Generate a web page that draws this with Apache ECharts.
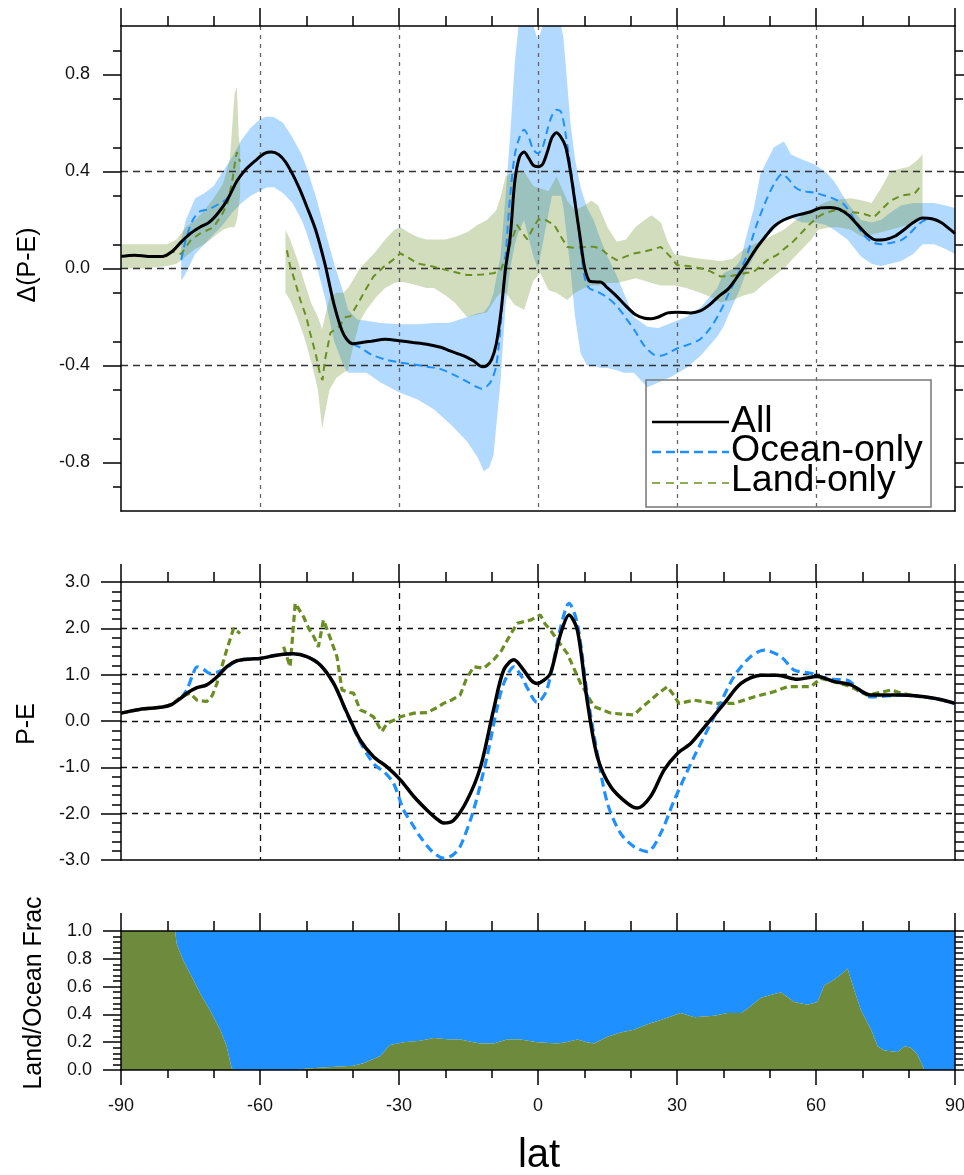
<!DOCTYPE html>
<html><head><meta charset="utf-8">
<script src="https://cdn.jsdelivr.net/npm/echarts@6/dist/echarts.min.js"></script>
<style>html,body{margin:0;padding:0;background:#fff}#c{width:964px;height:1175px}</style>
</head><body><div id="c"></div>
<script>
// ---------- DATA ----------
const xTicks = [-90, 90, 30];            // min, max, step of latitude axis
const deltaTickValues = [-0.8, -0.4, 0, 0.4, 0.8];

// Top panel: Δ(P-E)
const deltaAll = [[-90,0.05],[-87,0.055],[-84,0.05],[-81,0.05],[-79,0.07],[-77,0.11],[-75,0.145],[-73,0.17],[-71,0.19],[-69,0.23],[-67,0.285],[-65,0.36],[-63,0.41],[-61,0.445],[-59,0.475],[-57.5,0.48],[-56,0.47],[-54.5,0.44],[-53,0.39],[-51.5,0.33],[-50,0.26],[-48,0.16],[-46,0.02],[-44,-0.15],[-42,-0.27],[-40,-0.31],[-38,-0.305],[-36,-0.3],[-33,-0.292],[-30,-0.298],[-27,-0.305],[-24,-0.312],[-21,-0.325],[-19,-0.34],[-16,-0.36],[-14,-0.38],[-12,-0.405],[-11,-0.4],[-10,-0.375],[-9,-0.31],[-8,-0.18],[-7,0.0],[-6,0.13],[-5,0.36],[-4,0.46],[-3,0.48],[-2,0.455],[-1,0.425],[0,0.42],[1,0.43],[2,0.48],[3,0.54],[4,0.56],[5,0.54],[6,0.5],[7,0.4],[8,0.27],[9,0.14],[10,0.01],[11,-0.05],[12,-0.055],[13.5,-0.056],[15,-0.08],[17,-0.115],[19,-0.155],[21,-0.19],[23,-0.205],[24.5,-0.207],[26,-0.2],[28,-0.183],[30,-0.18],[33,-0.183],[35,-0.175],[37,-0.15],[39,-0.115],[41,-0.085],[43,-0.035],[45,0.02],[47,0.08],[49,0.13],[51,0.175],[53,0.2],[55,0.215],[57,0.225],[59,0.235],[61,0.25],[63,0.252],[65,0.245],[67,0.22],[69,0.18],[71,0.14],[73,0.118],[75,0.12],[77,0.133],[79,0.16],[81,0.19],[83,0.208],[85,0.205],[87,0.19],[89,0.16],[90,0.144]];
const deltaOcean = [[-77,0.035],[-76,0.12],[-74.5,0.2],[-73,0.235],[-71,0.245],[-69,0.265],[-67,0.29],[-65,0.36],[-63,0.41],[-61,0.445],[-59,0.475],[-57.5,0.48],[-56,0.47],[-54.5,0.44],[-53,0.39],[-51.5,0.33],[-50,0.26],[-48,0.16],[-46,0.02],[-44,-0.15],[-42,-0.27],[-40,-0.31],[-38,-0.33],[-36,-0.355],[-33,-0.375],[-30,-0.387],[-27,-0.395],[-24,-0.405],[-21,-0.415],[-18,-0.44],[-15,-0.47],[-13,-0.49],[-12,-0.496],[-11,-0.485],[-10,-0.46],[-9,-0.4],[-8,-0.22],[-7,0.05],[-6,0.3],[-5,0.47],[-4,0.54],[-3,0.572],[-2,0.54],[-1,0.49],[0,0.475],[1,0.5],[2,0.57],[3,0.63],[4,0.655],[5,0.645],[6,0.55],[7,0.42],[8,0.29],[9,0.12],[10,-0.03],[11,-0.08],[13,-0.097],[15,-0.12],[17,-0.155],[19,-0.205],[21,-0.26],[23,-0.32],[25,-0.355],[26.5,-0.36],[28,-0.35],[30,-0.33],[33,-0.31],[35,-0.292],[37,-0.25],[39,-0.19],[41,-0.11],[43,-0.03],[45,0.05],[47,0.17],[49,0.27],[51,0.35],[52.7,0.389],[54,0.37],[55.5,0.335],[57,0.32],[59.6,0.313],[62,0.3],[64,0.286],[66,0.265],[68,0.21],[70,0.145],[72,0.11],[74,0.1],[76,0.105],[78.3,0.116],[80,0.14],[82,0.18],[83.5,0.2],[85,0.205],[87,0.19],[89,0.16],[90,0.144]];
const deltaLand = [[-90,0.05],[-87,0.055],[-84,0.05],[-81,0.05],[-79,0.07],[-77,0.06],[-75,0.116],[-73,0.144],[-70,0.17],[-68,0.23],[-67,0.27],[-66,0.36],[-65.3,0.45],[-65,0.48],[-64.3,0.44],[-64,null],[-54.2,0.075],[-53.5,0.01],[-52.5,-0.05],[-51.3,-0.13],[-50,-0.2],[-49.2,-0.265],[-48,-0.35],[-47,-0.44],[-46.5,-0.46],[-46,-0.38],[-44.8,-0.265],[-43,-0.24],[-41.5,-0.2],[-40.5,-0.197],[-38.4,-0.129],[-37,-0.08],[-35.5,-0.033],[-33.3,0.007],[-31,0.04],[-29.7,0.062],[-28,0.045],[-26,0.021],[-22.5,0.007],[-19,-0.01],[-15.3,-0.027],[-12,-0.025],[-9.6,-0.02],[-8,-0.006],[-7,0.048],[-6,0.1],[-4.5,0.18],[-3.5,0.15],[-2.3,0.12],[-1,0.17],[0,0.2],[1.3,0.205],[2.5,0.19],[3.4,0.184],[5,0.13],[6.3,0.089],[8,0.085],[10,0.089],[12,0.09],[13.5,0.082],[15.5,0.05],[17,0.035],[19,0.05],[20.7,0.062],[23,0.07],[25,0.08],[26.5,0.089],[28.5,0.05],[30,0.014],[32.5,0.01],[35,0.001],[37,-0.01],[39.4,-0.033],[42,-0.03],[44.5,-0.02],[46.6,-0.013],[48,0.01],[49.5,0.035],[51.5,0.055],[53.1,0.08],[55,0.11],[56.7,0.144],[58.5,0.18],[60.3,0.211],[62,0.23],[63.9,0.239],[65.5,0.237],[67.5,0.232],[69,0.23],[70.4,0.225],[72.5,0.211],[74,0.24],[76.1,0.28],[78.3,0.3],[80,0.305],[81.2,0.307],[82.2,0.33],[83,0.341]];

// spread bands: [lat, low, high]
const oceanBand = [[-77,-0.05,0.12],[-76,-0.02,0.2],[-74,0.06,0.29],[-72,0.1,0.31],[-70,0.14,0.34],[-68,0.18,0.4],[-66,0.23,0.46],[-64,0.27,0.53],[-62,0.3,0.58],[-60,0.32,0.615],[-58.5,0.335,0.627],[-57,0.335,0.625],[-55,0.31,0.6],[-53,0.27,0.54],[-51,0.2,0.47],[-50,0.15,0.42],[-48,0.03,0.3],[-46,-0.12,0.16],[-44,-0.3,0.02],[-42,-0.4,-0.1],[-41,-0.43,-0.17],[-39,-0.43,-0.21],[-37,-0.43,-0.215],[-34,-0.47,-0.225],[-30,-0.51,-0.23],[-26,-0.54,-0.23],[-22.5,-0.58,-0.225],[-19,-0.64,-0.224],[-15.3,-0.713,-0.2],[-13,-0.78,-0.185],[-11.7,-0.836,-0.18],[-10.5,-0.82,-0.15],[-9.6,-0.768,-0.1],[-8.1,-0.469,0.05],[-7,-0.15,0.3],[-6,0.0,0.55],[-5,0.1,0.85],[-4.2,0.15,1.0],[-3,0.2,1.0],[-1,0.05,1.0],[0,0.0,0.94],[1,0.1,1.0],[3,0.3,1.0],[5,0.3,1.0],[5.5,0.25,0.95],[7,0.0,0.6],[8,-0.2,0.45],[9.2,-0.35,0.334],[10.6,-0.4,0.25],[12,-0.4,0.2],[13.5,-0.41,0.12],[15,-0.41,0.05],[17,-0.42,-0.03],[18.5,-0.43,-0.1],[20.7,-0.43,-0.2],[23.6,-0.49,-0.24],[26,-0.47,-0.245],[29.4,-0.44,-0.22],[32,-0.41,-0.2],[35.1,-0.36,-0.16],[38.7,-0.28,-0.08],[40,-0.24,-0.02],[42.3,-0.14,0.0],[43.7,-0.08,0.035],[45.2,0.0,0.15],[46.6,0.05,0.25],[48,0.1,0.39],[50.9,0.16,0.5],[53.1,0.2,0.524],[54.6,0.21,0.47],[57,0.19,0.45],[59.6,0.19,0.43],[62,0.18,0.4],[63.9,0.16,0.36],[66.8,0.12,0.27],[69.7,0.05,0.2],[72,0.02,0.19],[74,0.01,0.2],[76,0.02,0.23],[78.3,0.03,0.26],[81,0.06,0.27],[83,0.1,0.27],[85.5,0.1,0.27],[88,0.08,0.26],[90,0.06,0.25]];
const landBand = [[-90,0.0,0.1],[-85,0.0,0.1],[-80,0.01,0.1],[-78,0.02,0.12],[-76,0.05,0.17],[-74,0.08,0.2],[-72,0.1,0.24],[-70,0.13,0.29],[-68,0.16,0.35],[-66.5,0.17,0.45],[-65.5,0.17,0.72],[-65,0.2,0.75],[-64.6,0.25,0.55],[-64.3,0.3,0.5],[null,null,null],
 [-54.5,-0.1,0.16],[-53.5,-0.13,0.12],[-52,-0.2,0.04],[-50.5,-0.28,-0.05],[-49,-0.38,-0.14],[-47.5,-0.5,-0.2],[-46.6,-0.66,-0.25],[-46,-0.6,-0.2],[-45,-0.5,-0.12],[-43.5,-0.45,-0.1],[-42,-0.43,-0.1],[-41,-0.42,-0.08],[-40,-0.33,-0.05],[-38.5,-0.22,0.0],[-37,-0.17,0.03],[-35,-0.12,0.07],[-33,-0.08,0.12],[-31,-0.06,0.16],[-29.7,-0.055,0.17],[-28,-0.06,0.15],[-26,-0.07,0.13],[-24,-0.08,0.12],[-22.5,-0.08,0.12],[-20,-0.11,0.12],[-18,-0.14,0.13],[-15.3,-0.2,0.15],[-13,-0.19,0.18],[-11,-0.18,0.2],[-9,-0.12,0.24],[-8,-0.1,0.3],[-7,-0.1,0.38],[-5,-0.15,0.4],[-3,-0.17,0.4],[-1,-0.05,0.34],[0.5,-0.02,0.33],[2.3,-0.09,0.32],[4,-0.1,0.38],[6.3,-0.13,0.28],[8,-0.1,0.24],[10,-0.08,0.26],[11.5,-0.07,0.28],[13,-0.07,0.26],[15,-0.06,0.17],[17,-0.06,0.11],[19,-0.05,0.12],[21,-0.04,0.17],[23,-0.05,0.2],[24.5,-0.06,0.22],[26.5,-0.07,0.19],[28,-0.07,0.11],[29.4,-0.07,0.06],[32,-0.08,0.05],[35,-0.1,0.04],[37.5,-0.12,0.035],[39.4,-0.14,0.03],[42,-0.13,0.04],[44.5,-0.11,0.08],[46.6,-0.1,0.1],[49,-0.06,0.12],[51,-0.03,0.14],[53.1,0.0,0.16],[55,0.04,0.19],[57,0.08,0.22],[59,0.12,0.24],[60.5,0.16,0.26],[63,0.17,0.28],[65,0.17,0.285],[67.5,0.16,0.29],[70,0.13,0.28],[72,0.14,0.27],[74,0.15,0.33],[76,0.16,0.4],[78,0.17,0.41],[80,0.18,0.42],[81.5,0.19,0.44],[83,0.21,0.47]];

// Middle panel: P-E
const peAll = [[-90,0.17],[-86,0.25],[-81,0.3],[-79,0.36],[-77,0.5],[-75.8,0.6],[-73.6,0.72],[-71.5,0.78],[-69.3,0.95],[-67.2,1.17],[-65,1.3],[-62,1.34],[-60,1.35],[-56.4,1.42],[-52.8,1.45],[-49.9,1.39],[-47,1.21],[-44.1,0.81],[-41.2,0.17],[-38.4,-0.41],[-35.5,-0.77],[-32.6,-0.99],[-29.7,-1.27],[-26.8,-1.63],[-24,-1.92],[-22,-2.1],[-20.4,-2.2],[-18.2,-2.14],[-15.3,-1.71],[-12.4,-0.99],[-9.6,0.24],[-7.4,1.1],[-5.2,1.32],[-3.1,1.1],[-1.5,0.88],[-0.2,0.81],[1.3,0.88],[2.7,1.03],[4.9,1.89],[6.7,2.29],[8.5,1.96],[10.6,0.45],[12.8,-0.77],[15.7,-1.42],[19.3,-1.78],[21.4,-1.88],[24.3,-1.63],[27.2,-1.06],[30.1,-0.7],[33,-0.48],[36.6,-0.05],[40.2,0.38],[43.8,0.81],[48.1,0.99],[51.7,0.99],[56,0.9],[60.3,0.96],[63.9,0.85],[67.5,0.78],[71.9,0.56],[78.3,0.56],[85.5,0.49],[90,0.38]];
const peOcean = [[-77,0.5],[-75.8,0.67],[-74.5,1.0],[-73.6,1.17],[-72,1.1],[-70.8,1.03],[-67.9,1.1],[-65,1.3],[-62,1.34],[-60,1.35],[-56.4,1.42],[-52.8,1.45],[-49.9,1.39],[-47,1.21],[-44.1,0.81],[-41.2,0.15],[-38.4,-0.45],[-35.5,-0.92],[-33,-1.12],[-31.2,-1.34],[-29,-1.92],[-27,-2.25],[-25.4,-2.5],[-23,-2.8],[-20.4,-2.96],[-18.5,-2.9],[-16.8,-2.71],[-13.9,-1.92],[-11,-0.77],[-9,0.2],[-7.4,0.81],[-5.2,1.17],[-3.5,0.95],[-2.4,0.73],[-0.2,0.4],[1.9,0.67],[4.9,2.03],[6.7,2.54],[8.5,2.1],[10.6,0.59],[12.8,-0.7],[15,-1.78],[17.8,-2.42],[20.7,-2.71],[23.6,-2.82],[26.5,-2.42],[29.4,-1.71],[33.7,-0.77],[38,0.09],[42.3,0.96],[45.9,1.39],[48.8,1.53],[52.4,1.39],[55.3,1.1],[58.9,1.03],[60.8,0.96],[63.9,0.9],[66.8,0.88],[69,0.7],[71.9,0.52],[78.3,0.56],[85.5,0.49],[90,0.38]];
const peLand = [[-90,0.17],[-86,0.25],[-81,0.3],[-79,0.36],[-77,0.52],[-75.1,0.6],[-73.6,0.45],[-71.5,0.42],[-70.3,0.55],[-69.3,0.81],[-67.2,1.53],[-65.7,2.0],[-64.3,1.89],[-64,null],[-54.9,1.6],[-53.5,1.17],[-52.4,2.54],[-50.6,2.25],[-49.5,2.0],[-48.4,1.82],[-47.4,1.6],[-46.3,2.18],[-45.2,1.89],[-43.4,1.39],[-42.3,0.67],[-41,0.62],[-39.8,0.6],[-38.4,0.24],[-37,0.18],[-35.5,0.09],[-33.7,-0.23],[-32.6,-0.05],[-31,0.02],[-29.7,0.09],[-26.8,0.17],[-24,0.18],[-22,0.28],[-20.4,0.38],[-18.5,0.46],[-16.8,0.56],[-15.5,0.9],[-13.9,1.17],[-11.7,1.14],[-9.6,1.32],[-8,1.5],[-6.6,1.75],[-4.5,2.11],[-1.6,2.18],[0.5,2.29],[1.5,2.1],[2.7,1.96],[4.5,1.7],[6.3,1.46],[9.2,0.81],[12.1,0.31],[15.7,0.17],[18,0.15],[20.7,0.13],[22.5,0.3],[24.3,0.45],[26,0.6],[27.9,0.74],[29,0.6],[30.4,0.38],[33.7,0.45],[38,0.38],[42.3,0.38],[46.6,0.52],[50.9,0.63],[53.8,0.74],[58.9,0.74],[61,0.92],[63.9,0.85],[67.5,0.74],[71,0.56],[74,0.62],[76.2,0.67],[78.3,0.6],[80.5,0.56],[82.6,0.52]];

// Bottom panel: land fraction (ocean = the rest up to 1)
const landFrac = [[-90,1],[-79,1],[-78.3,1],[-78,0.91],[-76.6,0.79],[-74.4,0.65],[-72.9,0.55],[-70.8,0.43],[-68.6,0.29],[-67.2,0.17],[-66.1,0.01],[-65.5,0],[-52,0],[-49.9,0.01],[-45.5,0.02],[-39.8,0.03],[-37.5,0.05],[-36.2,0.07],[-34,0.1],[-32.5,0.16],[-31.9,0.18],[-29,0.2],[-25.4,0.21],[-22.5,0.23],[-19,0.22],[-16.7,0.22],[-14,0.2],[-12.4,0.19],[-9.5,0.19],[-6.7,0.22],[-3.8,0.22],[-0.2,0.2],[4.1,0.19],[6,0.2],[8.5,0.22],[10.5,0.2],[12.1,0.19],[15,0.24],[17.8,0.27],[20.7,0.29],[23.6,0.33],[26.5,0.36],[30.8,0.41],[33.7,0.38],[38,0.39],[40.9,0.41],[43.8,0.41],[45.2,0.44],[48.1,0.52],[52.4,0.56],[55.3,0.49],[58.2,0.47],[60.3,0.49],[61.8,0.61],[63.9,0.65],[65.5,0.69],[66.8,0.73],[68.3,0.57],[69.7,0.43],[71.9,0.29],[73.3,0.17],[74.7,0.14],[77.6,0.13],[79.1,0.17],[80.5,0.16],[81.9,0.11],[83.4,0.0],[90,0]];

const legendNames = ['All', 'Ocean-only', 'Land-only'];

// ---------- STYLE ----------
const FONT = "'Liberation Sans', Arial, Helvetica, sans-serif";
const BLUE = '#1e90ff', GREEN = '#6b8e23', LANDFILL = '#6e8a3c';
const tickLS = { color: '#000', width: 1.5 };
const axLine = { show: true, onZero: false, lineStyle: { color: '#000', width: 1.5 } };

function xAx(grid, pos, o) {
  return Object.assign({ type: 'value', gridIndex: grid, position: pos, min: xTicks[0], max: xTicks[1], interval: xTicks[2],
    axisLine: axLine, axisTick: { show: false }, axisLabel: { show: false }, splitLine: { show: false }, z: 2 }, o);
}
function yAx(grid, pos, min, max, interval, o) {
  return Object.assign({ type: 'value', gridIndex: grid, position: pos, min: min, max: max, interval: interval,
    axisLine: axLine, axisTick: { show: false }, axisLabel: { show: false }, splitLine: { show: false }, z: 2 }, o);
}
const topTicks = { axisTick: { show: true, inside: false, length: 18, lineStyle: tickLS }, minorTick: { show: true, splitNumber: 3, length: 10, lineStyle: tickLS } };
const lab = (fmt, extra) => Object.assign({ show: true, fontSize: 18, color: '#111', fontFamily: FONT, formatter: fmt }, extra || {});

function bandRenderer(rows, fill) {
  return function (params, api) {
    if (params.dataIndex !== 0) return null;
    const segs = []; let cur = [];
    rows.forEach(r => { if (r[0] === null) { if (cur.length) segs.push(cur); cur = []; } else cur.push(r); });
    if (cur.length) segs.push(cur);
    return { type: 'group', children: segs.map(seg => {
      const pts = seg.map(r => api.coord([r[0], r[2]]));
      for (let i = seg.length - 1; i >= 0; i--) pts.push(api.coord([seg[i][0], seg[i][1]]));
      return { type: 'polygon', shape: { points: pts }, style: { fill: fill } };
    }) };
  };
}
function line(xi, yi, data, color, width, dash, smooth, z) {
  return { type: 'line', xAxisIndex: xi, yAxisIndex: yi, data: data, symbol: 'none', smooth: smooth, connectNulls: false,
    lineStyle: { color: color, width: width, type: dash }, z: z, silent: true };
}

const option = {
  animation: false,
  backgroundColor: '#fff',
  grid: [
    { left: 121, top: 26, width: 834, height: 485, outerBoundsMode: 'none' },
    { left: 121, top: 582, width: 834, height: 278, outerBoundsMode: 'none' },
    { left: 121, top: 931, width: 834, height: 139, outerBoundsMode: 'none' }
  ],
  xAxis: [
    xAx(0, 'bottom', { splitLine: { show: true, showMinLine: false, showMaxLine: false, lineStyle: { color: '#666', type: [4, 5], width: 1.3 } } }),
    xAx(0, 'top', topTicks),
    xAx(1, 'bottom', { splitLine: { show: true, showMinLine: false, showMaxLine: false, lineStyle: { color: '#111', type: [6, 5], width: 1.3 } } }),
    xAx(1, 'top', topTicks),
    xAx(2, 'bottom', { z: 6, axisTick: { show: true, inside: false, length: 15, lineStyle: tickLS }, minorTick: { show: true, splitNumber: 3, length: 8, lineStyle: tickLS },
      axisLabel: lab(v => String(v), { margin: 27 }) }),
    xAx(2, 'top', Object.assign({ z: 6 }, topTicks))
  ],
  yAxis: [
    yAx(0, 'left', -1, 1, 0.4, {
      axisTick: { show: true, inside: false, length: 18, customValues: deltaTickValues, lineStyle: tickLS },
      minorTick: { show: true, splitNumber: 4, length: 8, lineStyle: tickLS },
      axisLabel: lab(v => v.toFixed(1), { margin: 31, customValues: deltaTickValues }),
      splitLine: { show: true, showMinLine: false, showMaxLine: false, lineStyle: { color: '#333', type: [7, 5], width: 1.3 } } }),
    yAx(0, 'right', -1, 1, 0.4, {
      axisTick: { show: true, inside: false, length: 18, customValues: deltaTickValues, lineStyle: tickLS },
      minorTick: { show: true, splitNumber: 4, length: 8, lineStyle: tickLS } }),
    yAx(1, 'left', -3, 3, 1, {
      axisTick: { show: true, inside: false, length: 20, lineStyle: tickLS },
      minorTick: { show: true, splitNumber: 5, length: 9, lineStyle: tickLS },
      axisLabel: lab(v => v.toFixed(1), { margin: 31 }),
      splitLine: { show: true, showMinLine: false, showMaxLine: false, lineStyle: { color: '#111', type: [6, 5], width: 1.3 } } }),
    yAx(1, 'right', -3, 3, 1, {
      axisTick: { show: true, inside: false, length: 20, lineStyle: tickLS },
      minorTick: { show: true, splitNumber: 5, length: 9, lineStyle: tickLS } }),
    yAx(2, 'left', 0, 1, 0.2, { z: 6,
      axisTick: { show: true, inside: false, length: 18, lineStyle: tickLS },
      minorTick: { show: true, splitNumber: 5, length: 8, lineStyle: tickLS },
      axisLabel: lab(v => v.toFixed(1), { margin: 29 }) }),
    yAx(2, 'right', 0, 1, 0.2, { z: 6,
      axisTick: { show: true, inside: false, length: 18, lineStyle: tickLS },
      minorTick: { show: true, splitNumber: 5, length: 8, lineStyle: tickLS } })
  ],
  series: [
    { type: 'custom', xAxisIndex: 0, yAxisIndex: 0, data: oceanBand, encode: { x: 0, y: [1, 2] }, clip: true, silent: true, z: 1,
      renderItem: bandRenderer(oceanBand, 'rgba(30,144,255,0.34)') },
    { type: 'custom', xAxisIndex: 0, yAxisIndex: 0, data: landBand, encode: { x: 0, y: [1, 2] }, clip: true, silent: true, z: 1,
      renderItem: bandRenderer(landBand, 'rgba(107,142,35,0.3)') },
    line(0, 0, deltaLand, GREEN, 2, [7, 5], false, 3),
    line(0, 0, deltaOcean, BLUE, 2, [8, 5], 0.3, 3),
    line(0, 0, deltaAll, '#000', 3, 'solid', 0.3, 4),

    line(2, 2, peLand, GREEN, 3.2, [7, 4], false, 3),
    line(2, 2, peOcean, BLUE, 3.2, [9, 5], 0.3, 3),
    line(2, 2, peAll, '#000', 3.5, 'solid', 0.3, 4),

    { type: 'line', xAxisIndex: 4, yAxisIndex: 4, data: landFrac, symbol: 'none', silent: true, z: 2,
      lineStyle: { width: 0, opacity: 0 }, areaStyle: { color: BLUE, opacity: 1, origin: 'end' } },
    { type: 'line', xAxisIndex: 4, yAxisIndex: 4, data: landFrac, symbol: 'none', silent: true, z: 3,
      lineStyle: { width: 0, opacity: 0 }, areaStyle: { color: LANDFILL, opacity: 1, origin: 'start' } }
  ],
  graphic: [
    { type: 'text', x: 28, y: 265, rotation: Math.PI / 2, z: 10,
      style: { text: 'Δ(P-E)', font: '25px ' + FONT, fill: '#000', textAlign: 'center', align: 'center', textVerticalAlign: 'middle', verticalAlign: 'middle' } },
    { type: 'text', x: 27, y: 724, rotation: Math.PI / 2, z: 10,
      style: { text: 'P-E', font: '25px ' + FONT, fill: '#000', textAlign: 'center', align: 'center', textVerticalAlign: 'middle', verticalAlign: 'middle' } },
    { type: 'text', x: 34, y: 993, rotation: Math.PI / 2, z: 10,
      style: { text: 'Land/Ocean Frac', font: '25px ' + FONT, fill: '#000', textAlign: 'center', align: 'center', textVerticalAlign: 'middle', verticalAlign: 'middle' } },
    { type: 'text', x: 539, y: 1156, z: 10,
      style: { text: 'lat', font: '40px ' + FONT, fill: '#000', textAlign: 'center', align: 'center', textVerticalAlign: 'middle', verticalAlign: 'middle' } },
    // legend
    { type: 'rect', z: 10, shape: { x: 646, y: 380, width: 285, height: 127 }, style: { fill: null, stroke: '#777', lineWidth: 1.5 } },
    { type: 'line', z: 10, shape: { x1: 652, y1: 422, x2: 729, y2: 422 }, style: { stroke: '#000', lineWidth: 2.5 } },
    { type: 'line', z: 10, shape: { x1: 652, y1: 452, x2: 729, y2: 452 }, style: { stroke: BLUE, lineWidth: 2.5, lineDash: [9, 5] } },
    { type: 'line', z: 10, shape: { x1: 652, y1: 483, x2: 729, y2: 483 }, style: { stroke: GREEN, lineWidth: 1.5, lineDash: [8, 6] } },
    { type: 'text', z: 10, x: 731, y: 422, style: { text: legendNames[0], font: '37.5px ' + FONT, fill: '#000', textVerticalAlign: 'middle', verticalAlign: 'middle' } },
    { type: 'text', z: 10, x: 731, y: 451, style: { text: legendNames[1], font: '37.5px ' + FONT, fill: '#000', textVerticalAlign: 'middle', verticalAlign: 'middle' } },
    { type: 'text', z: 10, x: 731, y: 481, style: { text: legendNames[2], font: '37.5px ' + FONT, fill: '#000', textVerticalAlign: 'middle', verticalAlign: 'middle' } }
  ]
};
const chart = echarts.init(document.getElementById('c'), null, { renderer: 'canvas', width: 964, height: 1175 });
chart.setOption(option);
</script></body></html>
